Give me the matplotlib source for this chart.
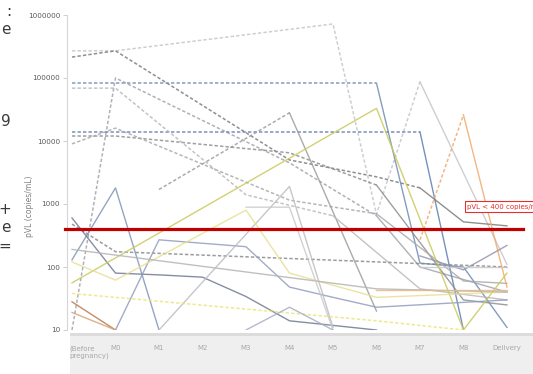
import matplotlib
matplotlib.use("Agg")
import matplotlib.pyplot as plt
from matplotlib.patches import Rectangle

# visits along the x axis
visits = ["(Before\npregnancy)", "M0", "M1", "M2", "M3", "M4", "M5", "M6", "M7", "M8", "Delivery"]

N = None  # no measurement at that visit
# plasma viral load per patient (copies/mL), one value per visit
pt01 = [270000, 270000, N, N, N, N, 720000, 690, 87000, N, 110]
pt02 = [215000, 270000, N, N, N, 5000, N, 2700, 1800, 520, 450]
pt03 = [83000, 83000, N, N, N, N, N, 83000, 115, 100, 11]
pt04 = [10, 100000, N, N, N, 4500, N, 650, 100, N, 40]
pt05 = [14000, 14000, N, N, N, N, N, N, 14000, 10, N]
pt06 = [12000, 12000, N, N, N, 6500, N, 2000, N, 30, 25]
pt07 = [9000, 16000, N, N, N, 1150, N, 700, N, 60, 55]
pt08 = [N, N, 1700, N, N, 28000, N, 20, N, N, N]
pt09 = [69000, 69000, N, N, 1400, N, 650, N, 45, N, 30]
pt10 = [480, 175, N, N, N, N, N, N, N, N, 100]
pt11 = [N, N, N, N, N, N, N, N, 270, 26000, 48]
pt12 = [130, 1800, 10, N, N, N, N, N, N, N, N]
pt13 = [600, 80, 75, 69, 34, 14, N, 10, N, N, N]
pt14 = [N, 10, 270, N, 210, 48, 33, 23, N, N, 30]
pt15 = [N, N, 10, N, N, 1900, 11, N, N, N, N]
pt16 = [56, N, N, N, N, N, N, 33000, N, 10, 80]
pt17 = [120, 62, N, N, 800, 80, N, 33, N, N, 40]
pt18 = [38, N, N, N, N, N, N, 14, N, 10, N]
pt19 = [28, 10, N, N, N, N, N, N, N, N, N]
pt20 = [19, 10, N, N, N, N, N, N, N, N, N]
pt21 = [190, N, N, N, N, N, N, 45, N, N, 40]
pt22 = [N, N, N, N, 890, 890, 10, N, N, N, N]
pt23 = [N, N, N, N, 10, 23, 10, N, N, N, N]
pt24 = [N, N, N, N, N, N, N, N, 150, 90, 220]
pt25 = [N, N, N, N, N, N, N, 43, N, N, 43]
pt26 = [N, N, N, N, N, N, N, N, 100, N, 100]

patients = [pt01, pt02, pt03, pt04, pt05, pt06, pt07, pt08, pt09, pt10, pt11, pt12, pt13,
            pt14, pt15, pt16, pt17, pt18, pt19, pt20, pt21, pt22, pt23, pt24, pt25, pt26]
# first visit on ART (dotted before it, solid after); 11 = never
art_start = [8, 8, 7, 7, 8, 7, 7, 5, 6, 11, 9, 0, 0,
             0, 0, 0, 0, 11, 0, 0, 0, 0, 0, 0, 0, 0]
line_colors = ["#c4c6cc", "#7c7c7c", "#6f8cb4", "#a2a2ae", "#5e7eb2", "#8e8e8e", "#a9a9a9",
               "#9c9c9c", "#b9b9b9", "#8a8a8a", "#f0aa6c", "#8096b8", "#707a94",
               "#949cbc", "#bcbcc4", "#c9c95c", "#e6e090", "#ece47a", "#b8784c", "#d4a474",
               "#b4b4b4", "#cacaca", "#a6aec4", "#9494ac", "#e8b888", "#c8c8c8"]
threshold = 400

fig = plt.figure(figsize=(5.33, 3.74), dpi=100)
ax = fig.add_axes([67 / 533, 1 - 330 / 374, 463 / 533, 315 / 374])
ax.patch.set_visible(False)

for vals, art, col in zip(patients, art_start, line_colors):
    xs = [i for i, v in enumerate(vals) if v is not None]
    ys = [vals[i] for i in xs]
    pre = [(x, y) for x, y in zip(xs, ys) if x <= art]
    post = [(x, y) for x, y in zip(xs, ys) if x >= art]
    if len(pre) > 1:
        px, py = zip(*pre)
        ax.plot(px, py, color=col, lw=1.1, ls=(0, (2.2, 1.4)), alpha=0.85)
    if len(post) > 1:
        qx, qy = zip(*post)
        ax.plot(qx, qy, color=col, lw=1.0, alpha=0.85)

ax.set_yscale("log")
ax.set_ylim(10, 1e6)
ax.set_xlim(-0.115, 10.53)
ax.set_yticks([10, 100, 1000, 10000, 100000, 1000000])
ax.set_yticklabels(["10", "100", "1000", "10000", "100000", "1000000"])
ax.minorticks_off()
ax.tick_params(axis="y", length=3, width=0.6, color="#c8c8c8", labelsize=5.2,
               labelcolor="#5a5a5a", pad=2)
# first category label is left-aligned under the axis start, the rest centred
ax.set_xticks(range(1, len(visits)))
ax.set_xticklabels(visits[1:])
ax.tick_params(axis="x", length=0, labelsize=5, labelcolor="#a8a8a8", pad=11)
ax.annotate(visits[0], xy=(-0.05, 0), xycoords=("data", "axes fraction"),
            xytext=(0, -11), textcoords="offset points", ha="left", va="top",
            fontsize=5, color="#a8a8a8", annotation_clip=False)
for s in ["top", "right", "bottom"]:
    ax.spines[s].set_visible(False)
ax.spines["left"].set_color("#d6d6d6")
ax.spines["left"].set_linewidth(0.8)

# threshold line and its label
ax.axhline(threshold, xmin=-0.005, xmax=0.985, color="#c00000", lw=2.3,
           clip_on=False, zorder=5)
ax.text(9.08, 900, f"pVL < {threshold} copies/mL", fontsize=5, color="#e03030",
        va="center", ha="left", clip_on=False, zorder=6,
        bbox=dict(boxstyle="square,pad=0.35", fc="white", ec="#e03030", lw=0.8))

fig.text(30 / 533, 1 - 206 / 374, "pVL (copies/mL)", rotation=90, ha="center",
         va="center", fontsize=5.5, color="#808080")

# grey band under the plot (category axis area)
fig.patches.append(Rectangle((70 / 533, 0), 1, 38 / 374, transform=fig.transFigure,
                             fc="#efefef", ec="none", zorder=-2))
fig.patches.append(Rectangle((70 / 533, 38 / 374), 1, 3 / 374, transform=fig.transFigure,
                             fc="#dcdcdc", ec="none", zorder=-2))

# cut-off slide text at the left edge
for ch, ypx in [(":", 12), ("e", 30), ("9", 122), ("+", 210), ("e", 228), ("=", 246)]:
    fig.text(11 / 533, 1 - ypx / 374, ch, ha="right", va="center", fontsize=11,
             color="#3a3a3a")

fig.savefig("out.png", dpi=100)
